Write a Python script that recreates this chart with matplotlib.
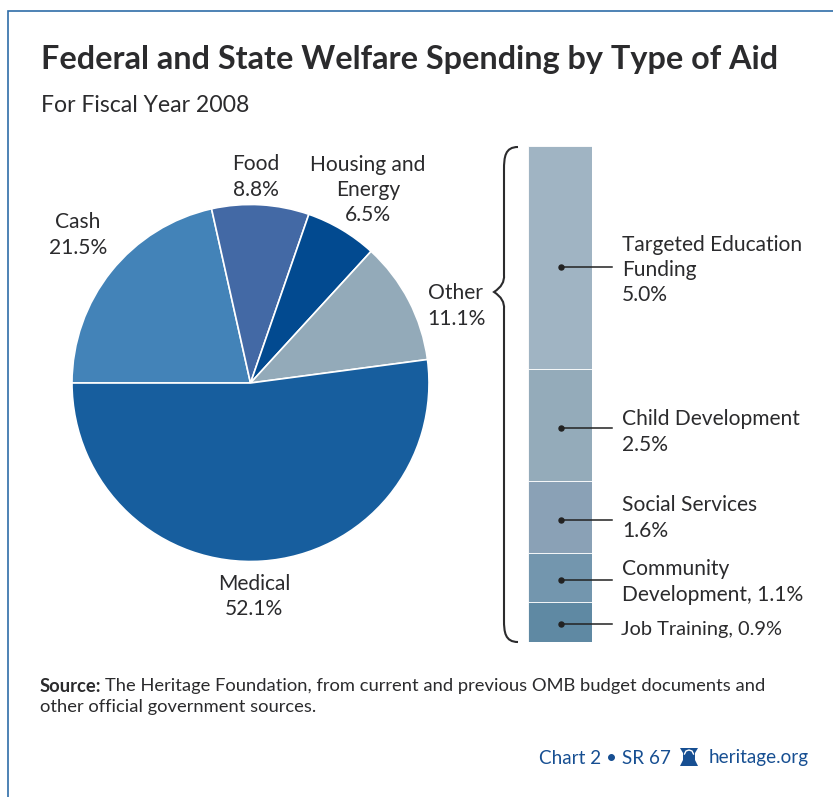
import matplotlib
matplotlib.use("Agg")
import matplotlib.pyplot as plt
from matplotlib.path import Path
from matplotlib.patches import PathPatch

W, H = 833, 797

# Spending shares, percent of the total
pie_names = ["Cash", "Food", "Housing and\nEnergy", "Other", "Medical"]
pie_values = [21.5, 8.8, 6.5, 11.1, 52.1]
pie_colors = ["#4383B8", "#4369A5", "#024A90", "#93AAB9", "#175E9E"]

# Breakdown of "Other", top to bottom
other_names = ["Targeted Education\nFunding\n5.0%", "Child Development\n2.5%",
               "Social Services\n1.6%", "Community\nDevelopment, 1.1%", "Job Training, 0.9%"]
other_values = [5.0, 2.5, 1.6, 1.1, 0.9]
other_colors = ["#A0B4C3", "#94ABBA", "#8AA1B6", "#7396AE", "#5F89A3"]

TITLE = "Federal and State Welfare Spending by Type of Aid"
SUBTITLE = "For Fiscal Year 2008"
INK = "#2B2B2D"
BLUE = "#174F92"

plt.rcParams["font.family"] = ["Lato", "DejaVu Sans"]
fig = plt.figure(figsize=(W / 100, H / 100), dpi=100, facecolor="white")


def axes_px(x0, y0, x1, y1, **kw):
    """Axes placed by pixel box, y measured from the top."""
    return fig.add_axes([x0 / W, 1 - y1 / H, (x1 - x0) / W, (y1 - y0) / H], **kw)


# Pie, running clockwise from the nine o'clock position
cx, cy, r = 250.5, 383, 178.5
ax_pie = axes_px(cx - r, cy - r, cx + r, cy + r)
ax_pie.pie(pie_values, colors=pie_colors, startangle=180, counterclock=False, radius=1,
           wedgeprops=dict(edgecolor="white", linewidth=1.2))
ax_pie.set_xlim(-1, 1)
ax_pie.set_ylim(-1, 1)
ax_pie.axis("off")

# Stacked column for the "Other" share
ax_bar = axes_px(527.5, 146, 592, 642)
total = sum(other_values)
top = total
for v, c in zip(other_values, other_colors):
    ax_bar.bar(0, v, bottom=top - v, width=1, color=c, edgecolor="white", linewidth=0.6)
    top -= v
ax_bar.set_xlim(-0.5, 0.5)
ax_bar.set_ylim(0, total)
ax_bar.axis("off")

# Overlay in pixel coordinates for frame, text and annotations
ov = fig.add_axes([0, 0, 1, 1])
ov.set_xlim(0, W)
ov.set_ylim(H, 0)
ov.axis("off")
ov.patch.set_alpha(0)

ov.plot([8.5, 8.5, W], [H, 10.5, 10.5], color="#2F6DA8", lw=1.2, solid_joinstyle="miter")

ov.text(41, 59, TITLE, fontsize=23.35, fontweight="bold", color=INK, va="center", ha="left")
ov.text(41, 105, SUBTITLE, fontsize=16.6, color=INK, va="center", ha="left")


def label(x, y, s, ha="center", size=15.1):
    ov.text(x, y, s, fontsize=size, color=INK, ha=ha, va="center", linespacing=1.34)


pie_label_pos = [(78, 235), (256, 177), (368, 190), (456, 306), (254, 596.5)]
for (x, y), n, v in zip(pie_label_pos, pie_names, pie_values):
    label(x, y, f"{n}\n{v}%")

# Curly brace tying the "Other" slice to the column
V = [(518, 147), (505, 147), (504, 157), (504, 170), (504, 275), (505, 285), (494, 292),
     (505, 299), (504, 309), (504, 320), (504, 620), (504, 632), (505, 642), (518, 642)]
C = [Path.MOVETO, Path.CURVE4, Path.CURVE4, Path.CURVE4, Path.LINETO, Path.CURVE3, Path.CURVE3,
     Path.CURVE3, Path.CURVE3, Path.CURVE3, Path.LINETO, Path.CURVE4, Path.CURVE4, Path.CURVE4]
ov.add_patch(PathPatch(Path(V, C), fc="none", ec=INK, lw=1.5))

# Leader lines from each segment to its label
label_pos = [(622, 270), (622, 432), (622, 518), (622, 582), (621, 630)]
label_sizes = [15.1, 15.1, 15.1, 15.1, 14.4]
leader_y = [267, 428, 520, 580, 624]
for (lx, ly), n, yy, fs in zip(label_pos, other_names, leader_y, label_sizes):
    ov.plot([561, 612], [yy, yy], color="#222222", lw=1.1)
    ov.plot([561], [yy], "o", color="#222222", ms=3.6)
    label(lx, ly, n, ha="left", size=fs)

ov.text(40, 686, "Source:", fontsize=13.2, fontweight="bold", color=INK, va="center")
ov.text(105, 686, "The Heritage Foundation, from current and previous OMB budget documents and",
        fontsize=13.2, color=INK, va="center")
ov.text(40, 707, "other official government sources.", fontsize=13.2, color=INK, va="center")

ov.text(539, 758, "Chart 2 \u2022 SR 67", fontsize=13.6, color=BLUE, va="center", ha="left")
ov.text(709, 758, "heritage.org", fontsize=13.6, color=BLUE, va="center", ha="left")

# Small bell mark in the footer
bell = [(680, 748), (698, 748), (695, 753), (695, 760), (698, 766), (680, 766), (683, 760), (683, 753)]
ov.fill(*zip(*bell), color=BLUE, lw=0)
ov.plot([684.5, 686, 689, 692, 693.5], [754, 751, 750, 751, 754], color="white", lw=1)

fig.savefig("out.png", dpi=100, facecolor="white")
